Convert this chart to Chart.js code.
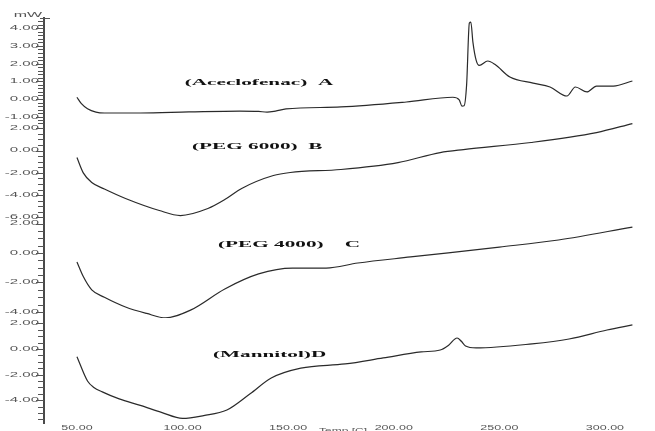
<!DOCTYPE html>
<html>
<head>
<meta charset="utf-8">
<script src="https://cdn.jsdelivr.net/npm/chart.js@4.4.1/dist/chart.umd.min.js"></script>
<style>
  html, body { margin: 0; padding: 0; background: #fff; }
  #wrap { width: 655px; height: 431px; position: relative; }
</style>
</head>
<body>
<div id="wrap"><canvas id="dsc"></canvas></div>
<script>
// DSC thermograms, temperature in C, heat flow in mW
var tempsA = [50, 52, 55, 59, 63, 80, 103, 127, 136, 140, 144, 149, 175, 206, 228, 231, 232.3, 233.3, 234.5, 235.8, 236.5, 237.5, 239, 240.5, 244.5, 248, 255, 266, 274, 282, 286, 291.5, 296, 304, 313];
var mwA    = [0.1, -0.25, -0.55, -0.74, -0.79, -0.79, -0.73, -0.68, -0.7, -0.74, -0.68, -0.56, -0.45, -0.17, 0.1, -0.05, -0.4, -0.38, 0.8, 4.3, 4.35, 3.2, 2.2, 1.9, 2.15, 1.95, 1.24, 0.9, 0.68, 0.17, 0.68, 0.4, 0.73, 0.73, 1.02];

var tempsB = [50, 53, 57, 63, 73, 89, 99, 112, 120, 128, 143, 151, 175, 202, 222, 233, 265, 296, 313];
var mwB    = [-0.63, -2.0, -2.87, -3.45, -4.3, -5.38, -5.83, -5.2, -4.4, -3.4, -2.24, -1.97, -1.7, -1.08, -0.18, 0.09, 0.72, 1.61, 2.42];

var tempsC = [50, 53, 57, 63, 73, 83, 92, 104, 120, 136, 152, 168, 183, 208, 250, 278, 313];
var mwC    = [-0.61, -1.6, -2.5, -3.0, -3.66, -4.1, -4.4, -3.86, -2.44, -1.42, -1.02, -1.02, -0.68, -0.27, 0.4, 0.88, 1.76];

var tempsD = [50, 55, 58, 62, 70, 80, 90, 100, 110, 121, 132, 142, 156, 177, 195, 213, 222, 226, 230, 232, 234, 239, 265.5, 283, 301, 313];
var mwD    = [-0.6, -2.5, -3.0, -3.35, -3.9, -4.4, -4.95, -5.42, -5.2, -4.77, -3.5, -2.27, -1.5, -1.17, -0.7, -0.23, -0.08, 0.3, 0.86, 0.6, 0.23, 0.08, 0.4, 0.78, 1.48, 1.88];

var xTicks  = [50, 100, 150, 200, 250, 300];
var yTicksA = [4, 3, 2, 1, 0, -1];
var yTicksB = [2, 0, -2, -4, -6];
var yTicksC = [2, 0, -2, -4];
var yTicksD = [2, 0, -2, -4];

var sampleNames = ['(Aceclofenac)  A', '(PEG 6000)  B', '(PEG 4000)    C', '(Mannitol)D'];

// one panel per sample, listed top to bottom
var panels = [
  {id: 'yA', temps: tempsA, mw: mwA, ticks: yTicksA, min: -1.3, max: 4.58, weight: 104, step: 0.2, label: [101, 0.9]},
  {id: 'yB', temps: tempsB, mw: mwB, ticks: yTicksB, min: -6.32, max: 2.56, weight: 99, step: 0.5, label: [104.5, 0.36]},
  {id: 'yC', temps: tempsC, mw: mwC, ticks: yTicksC, min: -4.41, max: 2.17, weight: 97, step: 0.5, label: [116.8, 0.54]},
  {id: 'yD', temps: tempsD, mw: mwD, ticks: yTicksD, min: -5.78, max: 2.42, weight: 105, step: 0.5, label: [114.4, -0.47]}
];

function minorTicks(p) {
    var out = [];
    var v = Math.ceil(p.min / p.step) * p.step;
    for (; v <= p.max + 1e-9; v += p.step) out.push(Math.round(v * 100) / 100);
    return out;
}

function stretched(ctx, txt, x, y, font, sx, sy, align, base, color) {
    ctx.save();
    ctx.translate(x, y);
    ctx.scale(sx, sy);
    ctx.font = font;
    ctx.textAlign = align;
    ctx.textBaseline = base;
    ctx.fillStyle = color;
    ctx.fillText(txt, 0, 0);
    ctx.restore();
}

var textPlugin = {
    id: 'textPlugin',
    afterDraw: function(chart) {
        var ctx = chart.ctx;
        var xs = chart.scales.x;
        var area = chart.chartArea;
        var tickFont = '10px "Liberation Sans"';
        panels.forEach(function(p, i) {
            var s = chart.scales[p.id];
            p.ticks.forEach(function(v) {
                stretched(ctx, v.toFixed(2), s.right - 5, s.getPixelForValue(v), tickFont, 1.5, 0.7, 'right', 'middle', '#555');
            });
            // tick comb on the left of the axis line
            ctx.save();
            ctx.strokeStyle = '#555';
            ctx.lineWidth = 1;
            ctx.beginPath();
            minorTicks(p).forEach(function(v) {
                var y = Math.round(s.getPixelForValue(v)) + 0.5;
                var len = p.ticks.indexOf(v) >= 0 ? 8 : 6;
                ctx.moveTo(s.right - len, y);
                ctx.lineTo(s.right, y);
            });
            ctx.stroke();
            ctx.restore();
            stretched(ctx, sampleNames[i], xs.getPixelForValue(p.label[0]), s.getPixelForValue(p.label[1]),
                      'bold 12px "Liberation Serif"', 1.77, 0.72, 'left', 'middle', '#111');
        });
        // small cap at the top of the axis
        ctx.save();
        ctx.strokeStyle = '#555';
        ctx.lineWidth = 1;
        ctx.beginPath();
        ctx.moveTo(area.left - 4, area.top + 0.5);
        ctx.lineTo(area.left + 6, area.top + 0.5);
        ctx.stroke();
        ctx.restore();
        xTicks.forEach(function(v) {
            stretched(ctx, v.toFixed(2), xs.getPixelForValue(v), area.bottom + 2, tickFont, 1.25, 0.7, 'center', 'top', '#555');
        });
        stretched(ctx, 'mW', area.left - 16, area.top - 3, tickFont, 1.6, 0.7, 'center', 'middle', '#555');
        stretched(ctx, 'Temp [C]', xs.getPixelForValue(176), area.bottom + 5, tickFont, 1.2, 0.7, 'center', 'top', '#555');
    }
};

var scales = {
    x: {
        type: 'linear',
        min: 34.4,
        max: 316.6,
        border: {display: false},
        grid: {display: false},
        ticks: {display: false},
        afterFit: function(scale) { scale.height = 8; }
    }
};
// stacked axes are laid out bottom-up, so add them in reverse
panels.slice().reverse().forEach(function(p) {
    scales[p.id] = {
        type: 'linear',
        position: 'left',
        stack: 'dsc',
        stackWeight: p.weight,
        min: p.min,
        max: p.max,
        border: {display: true, color: '#4a4a4a', width: 2},
        grid: {display: false},
        ticks: {display: false},
        afterFit: function(scale) { scale.width = 44; }
    };
});

var datasets = panels.map(function(p) {
    return {
        data: p.temps.map(function(t, k) { return {x: t, y: p.mw[k]}; }),
        yAxisID: p.id,
        borderColor: '#2a2a2a',
        borderWidth: 1.2,
        pointRadius: 0,
        fill: false,
        cubicInterpolationMode: 'monotone'
    };
});

var chart = new Chart(document.getElementById('dsc'), {
    type: 'line',
    data: {datasets: datasets},
    options: {
        responsive: true,
        maintainAspectRatio: false,
        animation: false,
        layout: {padding: {top: 18, right: 15, left: 0, bottom: 0}},
        plugins: {legend: {display: false}, tooltip: {enabled: false}},
        scales: scales
    },
    plugins: [textPlugin]
});
window.chart = chart;
</script>
</body>
</html>
